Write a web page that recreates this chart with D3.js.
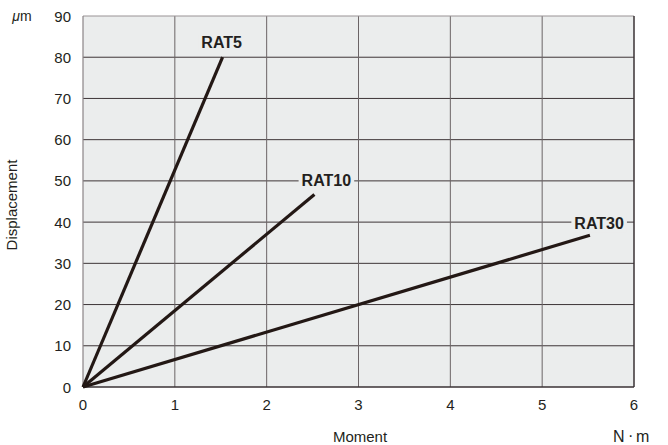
<!DOCTYPE html>
<html><head><meta charset="utf-8">
<script src="https://cdn.jsdelivr.net/npm/d3@7"></script>
<style>body{margin:0;background:#fff;} text{font-family:"Liberation Sans",Arial,sans-serif;fill:#231f20;}</style>
</head><body><svg id="c" width="668" height="445"></svg>
<script>
const seriesNames = ["RAT5", "RAT10", "RAT30"];
const seriesEndX = [1.52, 2.52, 5.52];
const seriesEndY = [80, 46.7, 36.8];
const xTicks = [0, 1, 2, 3, 4, 5, 6];
const yTicks = [0, 10, 20, 30, 40, 50, 60, 70, 80, 90];
const labelPos = [[1.51, 83.5], [2.65, 50], [5.62, 39.6]];

const svg = d3.select("#c");
const L = 83, R = 634, T = 16, B = 387;
const x = d3.scaleLinear().domain([0, 6]).range([L, R]);
const y = d3.scaleLinear().domain([0, 90]).range([B, T]);
const grid = "#3d3537";

svg.append("rect").attr("x", L).attr("y", T).attr("width", R - L).attr("height", B - T).attr("fill", "#ebeded");

svg.selectAll(".hg").data(yTicks.slice(1, -1)).enter().append("line")
  .attr("x1", L).attr("x2", R).attr("y1", d => y(d)).attr("y2", d => y(d))
  .attr("stroke", grid).attr("stroke-width", 1);
svg.selectAll(".vg").data(xTicks.slice(1, -1)).enter().append("line")
  .attr("y1", T).attr("y2", B).attr("x1", d => x(d)).attr("x2", d => x(d))
  .attr("stroke", "#6b6466").attr("stroke-width", 1);

svg.append("line").attr("x1", L).attr("x2", R).attr("y1", T).attr("y2", T).attr("stroke", "#9a9496").attr("stroke-width", 1.2);
svg.append("line").attr("x1", L).attr("x2", L).attr("y1", T).attr("y2", B).attr("stroke", "#8a8486").attr("stroke-width", 1.2);
svg.append("line").attr("x1", R).attr("x2", R).attr("y1", T).attr("y2", B).attr("stroke", "#3a3234").attr("stroke-width", 1.5);
svg.append("line").attr("x1", L).attr("x2", R).attr("y1", B).attr("y2", B).attr("stroke", "#3a3234").attr("stroke-width", 1.5);

svg.selectAll(".yl").data(yTicks).enter().append("text")
  .attr("x", 71).attr("y", d => y(d) + 5.5).attr("text-anchor", "end")
  .attr("font-size", 15).text(d => d);
svg.selectAll(".xl").data(xTicks).enter().append("text")
  .attr("x", d => x(d)).attr("y", 410).attr("text-anchor", "middle")
  .attr("font-size", 15).text(d => d);

const line = d3.line().x(d => x(d[0])).y(d => y(d[1]));
seriesNames.forEach((n, i) => {
  svg.append("path").datum([[0, 0], [seriesEndX[i], seriesEndY[i]]])
    .attr("d", line).attr("stroke", "#231815").attr("stroke-width", 3.2)
    .attr("fill", "none").attr("stroke-linecap", "butt");
});

seriesNames.forEach((n, i) => {
  const g = svg.append("g");
  const t = g.append("text").attr("x", x(labelPos[i][0])).attr("y", y(labelPos[i][1]) + 5.5)
    .attr("text-anchor", "middle").attr("font-weight", "bold").attr("font-size", 16).text(n);
  const bb = t.node().getBBox();
  g.insert("rect", "text").attr("x", bb.x - 3).attr("y", bb.y).attr("width", bb.width + 6).attr("height", bb.height)
    .attr("fill", "#ebeded");
});

svg.append("text").attr("x", 360).attr("y", 442).attr("text-anchor", "middle").attr("font-size", 15).text("Moment");
const nm = svg.append("text").attr("y", 442).attr("font-size", 16);
nm.append("tspan").attr("x", 613).text("N");
nm.append("tspan").attr("x", 628).attr("font-size", 16).attr("dy", -1).text("·");
nm.append("tspan").attr("x", 636).attr("dy", 1).text("m");
svg.append("text").attr("transform", "translate(17,205) rotate(-90)").attr("text-anchor", "middle").attr("font-size", 15).text("Displacement");
const um = svg.append("text").attr("x", 22).attr("y", 21).attr("text-anchor", "middle").attr("font-size", 14);
um.append("tspan").attr("font-style", "italic").text("μ");
um.append("tspan").text("m");
</script></body></html>
